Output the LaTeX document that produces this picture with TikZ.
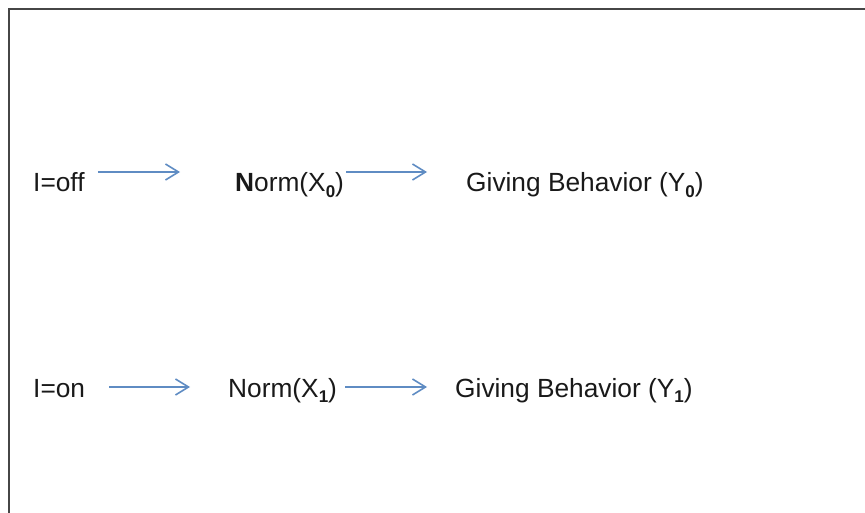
\documentclass[tikz,border=0pt]{standalone}
\usepackage{fontspec}
\setmainfont{Liberation Sans}
\usetikzlibrary{arrows.meta}
\newcommand{\subd}[1]{\raisebox{-5.5pt}{\fontsize{17}{17}\selectfont\bfseries #1}}
\definecolor{arrblue}{RGB}{95,140,195}
\definecolor{framegray}{RGB}{70,70,70}
\tikzset{
  lbl/.style={anchor=base west, inner sep=0pt, font=\fontsize{26.3}{30}\selectfont, text=black!90},
  arr/.style={draw=arrblue, line width=1.6pt, -{Straight Barb[length=13pt,width=16pt,line width=1.6pt]}}
}
\begin{document}
\begin{tikzpicture}[x=1pt,y=1pt]
\useasboundingbox (0,0) rectangle (865,-513);
\draw[framegray, line width=2.8pt] (9,-560) -- (9,-9) -- (900,-9);
% row 1
\node[lbl] (off) at (33,-192) {I=off};
\node[lbl] (n0) at (235,-192) {\textbf{N}orm(X\subd{0})};
\node[lbl] (y0) at (466,-192) {Giving Behavior (Y\subd{0})};
% row 2
\node[lbl] (on) at (33,-397) {I=on};
\node[lbl] (n1) at (228,-397) {Norm(X\subd{1})};
\node[lbl] (y1) at (455,-397) {Giving Behavior (Y\subd{1})};
% arrows
\draw[arr] ([xshift=13pt,yshift=20pt]off.base east) -- ([xshift=-55pt,yshift=20pt]n0.base west);
\draw[arr] ([xshift=2pt,yshift=20pt]n0.base east) -- ([xshift=-39pt,yshift=20pt]y0.base west);
\draw[arr] ([xshift=24pt,yshift=10pt]on.base east) -- ([xshift=-38pt,yshift=10pt]n1.base west);
\draw[arr] ([xshift=8pt,yshift=10pt]n1.base east) -- ([xshift=-28pt,yshift=10pt]y1.base west);
\end{tikzpicture}
\end{document}
